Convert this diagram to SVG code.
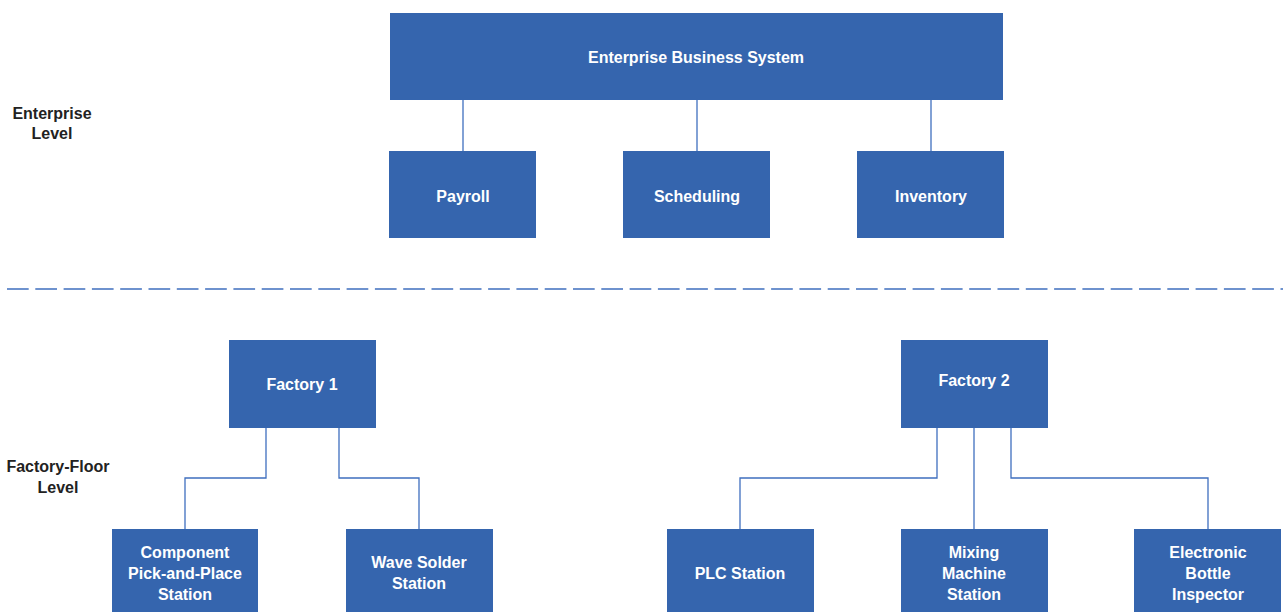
<svg xmlns="http://www.w3.org/2000/svg" width="1283" height="612" viewBox="0 0 1283 612">
<style>
.box{fill:#3565ae}
.t{font-family:"Liberation Sans",Arial,sans-serif;font-weight:bold;font-size:16px;fill:#ffffff;text-anchor:middle}
.lbl{font-family:"Liberation Sans",Arial,sans-serif;font-weight:bold;font-size:16px;fill:#222222;text-anchor:middle}
.c{fill:none;stroke:#3f6fbf;stroke-width:1.3}
</style>
<rect width="1283" height="612" fill="#ffffff"/>
<g id="labels">
<text class="lbl" x="52" y="119">Enterprise</text>
<text class="lbl" x="52" y="139">Level</text>
<text class="lbl" x="58" y="472">Factory-Floor</text>
<text class="lbl" x="58" y="493">Level</text>
</g>
<line x1="7" y1="289" x2="1283" y2="289" stroke="#3f6fbf" stroke-width="1.3" stroke-dasharray="21.7 6.6"/>
<g id="connectors">
<line class="c" x1="463" y1="100" x2="463" y2="151"/>
<line class="c" x1="697" y1="100" x2="697" y2="151"/>
<line class="c" x1="931" y1="100" x2="931" y2="151"/>
<polyline class="c" points="266,428 266,478 185,478 185,529"/>
<polyline class="c" points="339,428 339,478 419,478 419,529"/>
<polyline class="c" points="937,428 937,478 740,478 740,529"/>
<line class="c" x1="974" y1="428" x2="974" y2="529"/>
<polyline class="c" points="1011,428 1011,478 1208,478 1208,529"/>
</g>
<g id="ebs"><rect class="box" x="390" y="13" width="613" height="87"/><text class="t" x="696" y="63">Enterprise Business System</text></g>
<g id="payroll"><rect class="box" x="389" y="151" width="147" height="87"/><text class="t" x="463" y="202">Payroll</text></g>
<g id="scheduling"><rect class="box" x="623" y="151" width="147" height="87"/><text class="t" x="697" y="202">Scheduling</text></g>
<g id="inventory"><rect class="box" x="857" y="151" width="147" height="87"/><text class="t" x="931" y="202">Inventory</text></g>
<g id="factory1"><rect class="box" x="229" y="340" width="147" height="88"/><text class="t" x="302" y="390">Factory 1</text></g>
<g id="factory2"><rect class="box" x="901" y="340" width="147" height="88"/><text class="t" x="974" y="386">Factory 2</text></g>
<g id="pickplace"><rect class="box" x="112" y="529" width="146" height="83"/><text class="t" x="185" y="558">Component</text><text class="t" x="185" y="579">Pick-and-Place</text><text class="t" x="185" y="600">Station</text></g>
<g id="wavesolder"><rect class="box" x="346" y="529" width="147" height="83"/><text class="t" x="419" y="568">Wave Solder</text><text class="t" x="419" y="589">Station</text></g>
<g id="plc"><rect class="box" x="667" y="529" width="147" height="83"/><text class="t" x="740" y="579">PLC Station</text></g>
<g id="mixing"><rect class="box" x="901" y="529" width="147" height="83"/><text class="t" x="974" y="558">Mixing</text><text class="t" x="974" y="579">Machine</text><text class="t" x="974" y="600">Station</text></g>
<g id="bottle"><rect class="box" x="1134" y="529" width="147" height="83"/><text class="t" x="1208" y="558">Electronic</text><text class="t" x="1208" y="579">Bottle</text><text class="t" x="1208" y="600">Inspector</text></g>
</svg>
